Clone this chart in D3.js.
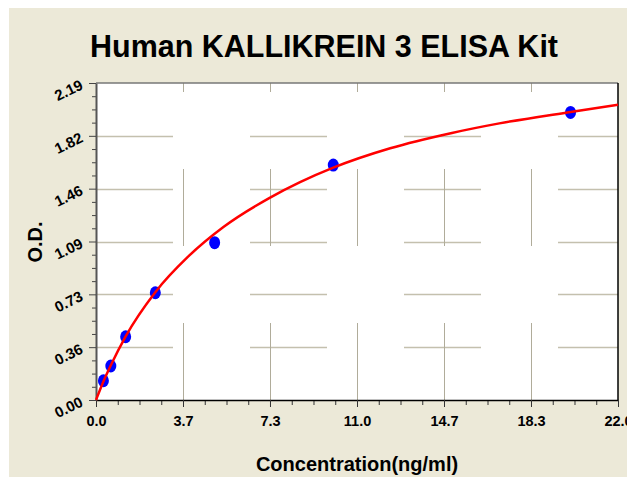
<!DOCTYPE html>
<html>
<head>
<meta charset="utf-8">
<script src="https://cdn.jsdelivr.net/npm/d3@7/dist/d3.min.js"></script>
<style>
  body { margin: 0; background: #fff; }
  text { font-family: "Liberation Sans", Arial, sans-serif; font-weight: bold; fill: #000; }
</style>
</head>
<body>
<svg id="chart" width="627" height="478"></svg>
<script>
var title = "Human KALLIKREIN 3 ELISA Kit",
    xTitle = "Concentration(ng/ml)",
    yTitle = "O.D.";

// standards (measured points)
var concentration = [0.3125, 0.625, 1.25, 2.5, 5, 10, 20],
    od = [0.133, 0.235, 0.437, 0.741, 1.087, 1.623, 1.987];

// fitted curve
var curveX = [0, 0.3125, 0.625, 1.25, 2.5, 3.88, 5.37, 7.3, 8.6, 10, 12.4, 15, 17, 20, 22],
    curveY = [0, 0.128, 0.24, 0.44, 0.745, 0.99, 1.195, 1.395, 1.505, 1.605, 1.739, 1.845, 1.911, 1.99, 2.04];

var xTicks = [0, 3.667, 7.333, 11, 14.667, 18.333, 22],
    xTickLabels = ["0.0", "3.7", "7.3", "11.0", "14.7", "18.3", "22.0"],
    yTicks = [0, 0.365, 0.73, 1.095, 1.46, 1.825, 2.19],
    yTickLabels = ["0.00", "0.36", "0.73", "1.09", "1.46", "1.82", "2.19"];

var margin = {top: 83, right: 9, bottom: 78, left: 96},
    width = 627 - margin.left - margin.right,
    height = 478 - margin.top - margin.bottom;

var svg = d3.select("#chart");

// beige panel
svg.append("rect")
    .attr("x", 9).attr("y", 8)
    .attr("width", 618).attr("height", 469)
    .attr("fill", "#ece9d8");

svg.append("text")
    .attr("x", 324).attr("y", 57)
    .attr("text-anchor", "middle")
    .attr("textLength", 468)
    .attr("lengthAdjust", "spacingAndGlyphs")
    .style("font-size", "32px")
    .text(title);

var g = svg.append("g")
    .attr("transform", "translate(" + margin.left + "," + margin.top + ")");

var x = d3.scaleLinear().domain([0, 22]).range([0, width]);
var y = d3.scaleLinear().domain([0, 2.19]).range([height, 0]);

g.append("rect")
    .attr("width", width).attr("height", height)
    .attr("fill", "#fff");

// gridlines, long dashes (horizontal start at left, vertical start at bottom)
g.selectAll(".hgrid")
    .data(yTicks.slice(1, -1))
  .enter().append("line")
    .attr("class", "hgrid")
    .attr("x1", 0).attr("x2", width)
    .attr("y1", function(d) { return Math.round(y(d)) + 0.5; })
    .attr("y2", function(d) { return Math.round(y(d)) + 0.5; })
    .attr("stroke", "#c4c0ae")
    .attr("stroke-width", 1.5)
    .attr("stroke-dasharray", "77,77");

g.selectAll(".vgrid")
    .data(xTicks.slice(1, -1))
  .enter().append("line")
    .attr("class", "vgrid")
    .attr("x1", function(d) { return Math.round(x(d)) + 0.5; })
    .attr("x2", function(d) { return Math.round(x(d)) + 0.5; })
    .attr("y1", height).attr("y2", 0)
    .attr("stroke", "#b0ac9a")
    .attr("stroke-width", 1)
    .attr("stroke-dasharray", "77,77");

// frame top / right
g.append("line")
    .attr("x1", 0).attr("x2", width).attr("y1", 0).attr("y2", 0)
    .attr("stroke", "#777").attr("stroke-width", 1.5);
g.append("line")
    .attr("x1", width).attr("x2", width).attr("y1", 0).attr("y2", height)
    .attr("stroke", "#000").attr("stroke-width", 1.5);

// minor ticks: 4 subdivisions per major step
var xMinor = [], yMinor = [];
for (var i = 0; i < xTicks.length - 1; i++)
  for (var k = 1; k < 4; k++) xMinor.push(xTicks[i] + (xTicks[i + 1] - xTicks[i]) * k / 4);
for (var i = 0; i < yTicks.length - 1; i++)
  for (var k = 1; k < 4; k++) yMinor.push(yTicks[i] + (yTicks[i + 1] - yTicks[i]) * k / 4);

g.append("g")
    .attr("transform", "translate(0," + height + ")")
    .call(d3.axisBottom(x).tickValues(xMinor).tickSize(5).tickFormat(""))
    .call(function(a) { a.select(".domain").remove(); a.selectAll("line").attr("stroke", "#333"); });

g.append("g")
    .call(d3.axisLeft(y).tickValues(yMinor).tickSize(4).tickFormat(""))
    .call(function(a) { a.select(".domain").remove(); a.selectAll("line").attr("stroke", "#444"); });

var xAxis = g.append("g")
    .attr("transform", "translate(0," + height + ")")
    .call(d3.axisBottom(x).tickValues(xTicks).tickSize(7).tickSizeOuter(0)
      .tickFormat(function(d, i) { return xTickLabels[i]; }));
xAxis.select(".domain").attr("stroke", "#000").attr("stroke-width", 1.5);
xAxis.selectAll("line").attr("stroke", "#333");
xAxis.selectAll("text")
    .attr("y", 0).attr("dy", null)
    .attr("transform", "translate(0,26)")
    .style("font-size", "14.5px");

var yAxis = g.append("g")
    .call(d3.axisLeft(y).tickValues(yTicks).tickSize(7).tickSizeOuter(0)
      .tickFormat(function(d, i) { return yTickLabels[i]; }));
yAxis.select(".domain").attr("stroke", "#555").attr("stroke-width", 2);
yAxis.selectAll("line").attr("stroke", "#444");
yAxis.selectAll("text")
    .attr("x", null).attr("dy", null)
    .attr("transform", "translate(-12,5) rotate(-26)")
    .attr("text-anchor", "end")
    .style("font-size", "15px");

// points first, curve drawn over them
g.selectAll(".pt")
    .data(concentration)
  .enter().append("ellipse")
    .attr("class", "pt")
    .attr("cx", function(d) { return x(d); })
    .attr("cy", function(d, i) { return y(od[i]); })
    .attr("rx", 5.5).attr("ry", 6.5)
    .attr("fill", "#0000ff");

var line = d3.line()
    .x(function(d) { return x(d); })
    .y(function(d, i) { return y(curveY[i]); })
    .curve(d3.curveMonotoneX);

g.append("path")
    .datum(curveX)
    .attr("d", line)
    .attr("fill", "none")
    .attr("stroke", "#ff0000")
    .attr("stroke-width", 2.5);

svg.append("text")
    .attr("x", 357).attr("y", 471)
    .attr("text-anchor", "middle")
    .style("font-size", "20px")
    .text(xTitle);

svg.append("text")
    .attr("transform", "translate(42,242) rotate(-90)")
    .attr("text-anchor", "middle")
    .style("font-size", "20px")
    .text(yTitle);
</script>
</body>
</html>
